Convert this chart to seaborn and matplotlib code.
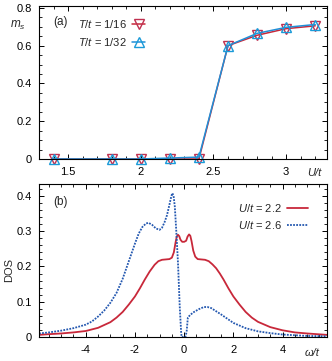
"""
Magnetização m_s vs U/t e DOS para dois valores de U/t — versão seaborn.
Salva out.png (332x361 px).
"""

import matplotlib

matplotlib.use("Agg")

import matplotlib.pyplot as plt
import pandas as pd
import seaborn as sns
from matplotlib.ticker import MultipleLocator

# ---- dados ----
U_VALS = [1.4, 1.8, 2.0, 2.2, 2.4, 2.6, 2.8, 3.0, 3.2]
MS_T16 = [0.0, 0.0, 0.0, 0.0, 0.0, 0.60, 0.655, 0.69, 0.705]
MS_T32 = [0.0, 0.0, 0.0, 0.005, 0.01, 0.60, 0.665, 0.697, 0.712]

W_U22 = [-5.9, -5.5, -5.0, -4.5, -4.0, -3.5, -3.0, -2.75, -2.5, -2.25, -2.0,
         -1.8, -1.6, -1.4, -1.2, -1.05, -0.9, -0.75, -0.6, -0.5, -0.42, -0.35,
         -0.3, -0.25, -0.2, -0.15, -0.08, 0.0, 0.08, 0.14, 0.2, 0.25, 0.3, 0.37,
         0.45, 0.55, 0.7, 0.85, 1.0, 1.15, 1.3, 1.45, 1.6, 1.8, 2.0, 2.25, 2.5,
         2.75, 3.0, 3.5, 4.0, 4.5, 5.0, 5.8]
DOS_U22 = [0.006, 0.008, 0.010, 0.013, 0.017, 0.026, 0.042, 0.055, 0.071,
           0.092, 0.115, 0.138, 0.163, 0.186, 0.205, 0.215, 0.219, 0.220,
           0.221, 0.225, 0.240, 0.268, 0.285, 0.290, 0.286, 0.276, 0.270,
           0.270, 0.273, 0.285, 0.291, 0.287, 0.272, 0.245, 0.228, 0.221,
           0.220, 0.219, 0.215, 0.206, 0.195, 0.180, 0.163, 0.138, 0.115,
           0.092, 0.071, 0.055, 0.043, 0.028, 0.019, 0.013, 0.010, 0.006]

W_U26 = [-5.9, -5.5, -5.0, -4.5, -4.0, -3.75, -3.5, -3.25, -3.0, -2.75, -2.5,
         -2.25, -2.0, -1.85, -1.7, -1.55, -1.45, -1.3, -1.15, -1.0, -0.9, -0.8,
         -0.7, -0.6, -0.52, -0.48, -0.43, -0.38, -0.32, -0.25, -0.18, -0.12,
         -0.1, 0.05, 0.1, 0.15, 0.25, 0.4, 0.6, 0.8, 0.95, 1.1, 1.3, 1.5, 1.75,
         2.0, 2.5, 3.0, 3.5, 4.0, 5.0, 5.8]
DOS_U26 = [0.010, 0.013, 0.018, 0.025, 0.035, 0.044, 0.058, 0.075, 0.097,
           0.125, 0.165, 0.215, 0.265, 0.293, 0.312, 0.322, 0.324, 0.318,
           0.308, 0.304, 0.310, 0.325, 0.345, 0.375, 0.400, 0.408, 0.400,
           0.370, 0.300, 0.209, 0.086, 0.010, 0.0, 0.0, 0.015, 0.055, 0.063,
           0.071, 0.079, 0.085, 0.085, 0.082, 0.073, 0.064, 0.052, 0.040,
           0.025, 0.016, 0.011, 0.007, 0.003, 0.002]

VERMELHO = "#c8283a"
AZUL_ESCURO = "#2458b0"
MARCA_VERM = "#c03050"
MARCA_AZUL = "#1a9ad8"

sns.set_style("ticks")
plt.rcParams["font.family"] = ["Liberation Sans", "DejaVu Sans"]
plt.rcParams["mathtext.fontset"] = "custom"
plt.rcParams["mathtext.it"] = "Liberation Sans:italic"
plt.rcParams["mathtext.rm"] = "Liberation Sans"
plt.rcParams["font.size"] = 8


def estilo_eixo(ax):
    for lado in ax.spines.values():
        lado.set_linewidth(0.8)
        lado.set_color("black")
    ax.tick_params(which="both", direction="in", top=True, right=True,
                   labelsize=8, colors="black")
    ax.tick_params(which="major", length=3.5, width=0.7)
    ax.tick_params(which="minor", length=2, width=0.6)
    ax.tick_params(axis="x", pad=6)
    ax.tick_params(axis="y", pad=5)


fig = plt.figure(figsize=(3.32, 3.61), dpi=100)
ax1 = fig.add_axes([0.1175, 0.5596, 0.867, 0.4238])
ax2 = fig.add_axes([0.1175, 0.0665, 0.867, 0.4238])

# ---- painel (a) ----
df_a = pd.DataFrame({"U": U_VALS, "T16": MS_T16, "T32": MS_T32})
sns.lineplot(data=df_a, x="U", y="T16", ax=ax1, color=VERMELHO, lw=1.1,
             marker="v", markersize=7.5, markerfacecolor="none",
             markeredgecolor=MARCA_VERM, markeredgewidth=1.0, clip_on=False,
             label=r"$T/t$ = 1/16")
sns.lineplot(data=df_a, x="U", y="T32", ax=ax1, color="#2090d8", lw=1.1,
             marker="^", markersize=7.5, markerfacecolor="none",
             markeredgecolor=MARCA_AZUL, markeredgewidth=1.0, clip_on=False,
             label=r"$T/t$ = 1/32")
ax1.set_xlim(1.3, 3.28)
ax1.set_ylim(0, 0.81)
ax1.xaxis.set_minor_locator(MultipleLocator(0.1))
ax1.yaxis.set_minor_locator(MultipleLocator(0.05))
ax1.set_yticks([0, 0.2, 0.4, 0.6, 0.8])
ax1.set_yticklabels(["0", "0.2", "0.4", "0.6", "0.8"])
ax1.set_xticks([1.5, 2, 2.5, 3])
ax1.set_xticklabels(["1.5", "2", "2.5", "3"])
ax1.set_xlabel("")
ax1.set_ylabel("")
estilo_eixo(ax1)
ax1.legend(loc="upper left", bbox_to_anchor=(0.115, 0.96), frameon=False,
           markerfirst=False, handlelength=1.2, handletextpad=0.5,
           labelspacing=0.55, borderpad=0, fontsize=8)
ax1.text(0.049, 0.895, "(a)", transform=ax1.transAxes, fontsize=8.5,
         va="center", ha="left")
ax1.text(-0.073, 0.876, r"$m_s$", transform=ax1.transAxes, fontsize=8.5,
         va="center", ha="center")
ax1.text(0.958, -0.092, "U/t", transform=ax1.transAxes, fontsize=8,
         style="italic", va="center", ha="center")

# ---- painel (b) ----
df_22 = pd.DataFrame({"w": W_U22, "dos": DOS_U22})
df_26 = pd.DataFrame({"w": W_U26, "dos": DOS_U26})
sns.lineplot(data=df_22, x="w", y="dos", ax=ax2, color=VERMELHO, lw=1.3,
             sort=False, label=r"$U/t$ = 2.2")
sns.lineplot(data=df_26, x="w", y="dos", ax=ax2, color=AZUL_ESCURO, lw=1.3,
             sort=False, label=r"$U/t$ = 2.6")
ax2.lines[1].set_linestyle((0, (1, 0.7)))
ax2.set_xlim(-5.9, 5.8)
ax2.set_ylim(0, 0.434)
ax2.xaxis.set_minor_locator(MultipleLocator(0.5))
ax2.yaxis.set_minor_locator(MultipleLocator(0.02))
ax2.set_yticks([0, 0.1, 0.2, 0.3, 0.4])
ax2.set_yticklabels(["0", "0.1", "0.2", "0.3", "0.4"])
ax2.set_xticks([-4, -2, 0, 2, 4])
ax2.set_xticklabels(["-4", "-2", "0", "2", "4"])
ax2.set_xlabel("")
ax2.set_ylabel("")
estilo_eixo(ax2)
leg = ax2.legend(loc="upper right", bbox_to_anchor=(0.955, 0.92),
                 frameon=False, markerfirst=False, handlelength=1.9,
                 handletextpad=0.5, labelspacing=0.45, borderpad=0, fontsize=8)
leg.get_lines()[1].set_linestyle((0, (1, 0.7)))
ax2.text(0.049, 0.882, "(b)", transform=ax2.transAxes, fontsize=8.5,
         va="center", ha="left")
ax2.text(-0.104, 0.438, "DOS", transform=ax2.transAxes, fontsize=8,
         rotation=90, va="center", ha="center")
ax2.text(0.948, -0.105, "ω/t", transform=ax2.transAxes, fontsize=8,
         style="italic", va="center", ha="center")

fig.savefig("out.png", dpi=100)
plt.close(fig)
